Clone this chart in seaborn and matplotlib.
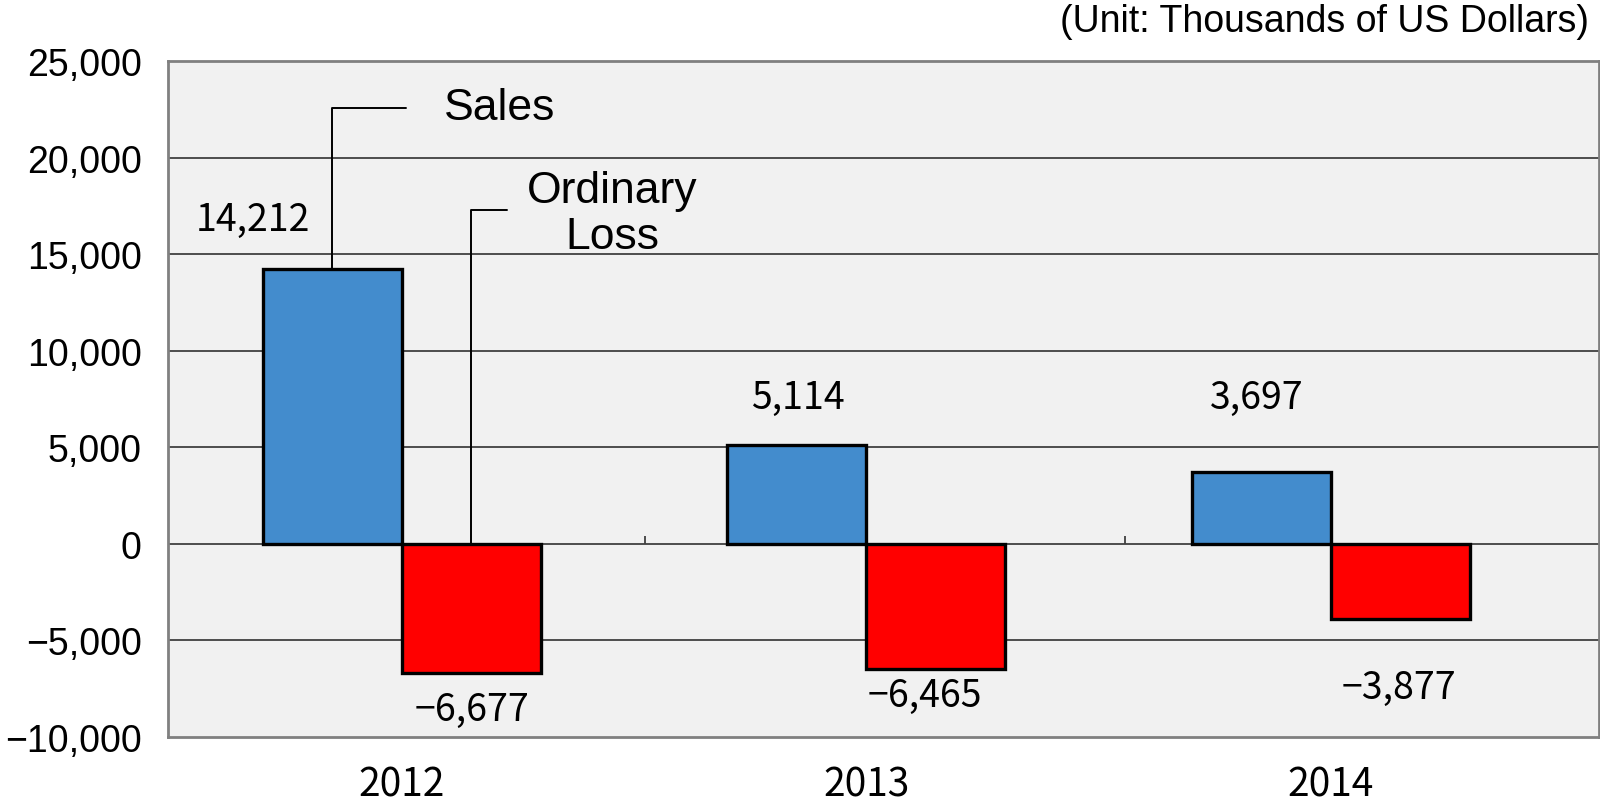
import matplotlib
matplotlib.use("Agg")
import matplotlib.pyplot as plt
import pandas as pd
import seaborn as sns

years = ["2012", "2013", "2014"]
sales = [14212, 5114, 3697]
ordinary_loss = [-6677, -6465, -3877]
series_names = ["Sales", "Ordinary Loss"]
y_ticks = [-10000, -5000, 0, 5000, 10000, 15000, 20000, 25000]

df = pd.DataFrame({
    "year": years * 2,
    "value": sales + ordinary_loss,
    "series": [series_names[0]] * 3 + [series_names[1]] * 3,
})

sns.set_style("white")
plt.rcParams["font.family"] = ["Liberation Sans", "DejaVu Sans"]
plt.rcParams["text.color"] = "black"
plt.rcParams["xtick.color"] = "black"
plt.rcParams["ytick.color"] = "black"
num_font = ["Noto Sans CJK JP", "DejaVu Sans"]

fig = plt.figure(figsize=(16, 8.03), dpi=100)
ax = fig.add_axes([0.105, 0.081, 0.8944, 0.8417])
ax.set_facecolor("#f1f1f1")

sns.barplot(data=df, x="year", y="value", hue="series", order=years,
            hue_order=series_names, palette=["#438ccd", "#ff0000"],
            width=0.598, gap=0, edgecolor="black", linewidth=2.4,
            saturation=1, legend=False, ax=ax, zorder=3)

ax.set_ylim(-10000, 25000)
ax.set_xlim(-0.503, 2.577)
ax.set_yticks(y_ticks)
ax.set_yticklabels([f"{v:,}".replace("-", "\u2212") for v in y_ticks], fontsize=27)
ax.set_xticks(range(len(years)))
ax.set_xticklabels(years, fontsize=28, family=num_font)
ax.tick_params(axis="both", length=0)
ax.tick_params(axis="y", pad=19)
ax.tick_params(axis="x", pad=20)
ax.set_xlabel("")
ax.set_ylabel("")

for v in y_ticks[1:-1]:
    ax.axhline(v, color="#404040", lw=1.3, zorder=1)
for s in ax.spines.values():
    s.set_color("#808080")
    s.set_linewidth(2)

# small dividers between categories on the zero line
ax.vlines([0.524, 1.556], 0, 400, color="#404040", lw=1.3, zorder=2)

sales_bars = ax.containers[0]
loss_bars = ax.containers[1]

# value labels
pos_dx = [-0.321, -0.148, -0.160]
pos_y = [16800, 7580, 7580]
neg_dx = [0.152, 0.125, 0.147]
neg_y = [-8560, -7840, -7420]
for i in range(len(years)):
    ax.text(i + pos_dx[i], pos_y[i], f"{sales[i]:,}", ha="center", va="center",
            fontsize=27, family=num_font)
    ax.text(i + neg_dx[i], neg_y[i], f"{ordinary_loss[i]:,}".replace("-", "\u2212"),
            ha="center", va="center", fontsize=27, family=num_font)

# leader lines to series names
b = sales_bars[0]
bx = b.get_x() + b.get_width() / 2
ax.plot([bx, bx, 0.009], [sales[0], 22580, 22580], color="black", lw=1.4, zorder=4)
ax.text(0.090, 22580, series_names[0], ha="left", va="center", fontsize=32)

b = loss_bars[0]
bx = b.get_x() + b.get_width() / 2
ax.plot([bx, bx, 0.227], [0, 17280, 17280], color="black", lw=1.4, zorder=4)
ax.text(0.453, 17100, "Ordinary\nLoss", ha="center", va="center", fontsize=32,
        linespacing=1.15)

fig.text(0.993, 0.972, "(Unit: Thousands of US Dollars)", ha="right", va="center",
         fontsize=27)

fig.savefig("out.png", dpi=100)
